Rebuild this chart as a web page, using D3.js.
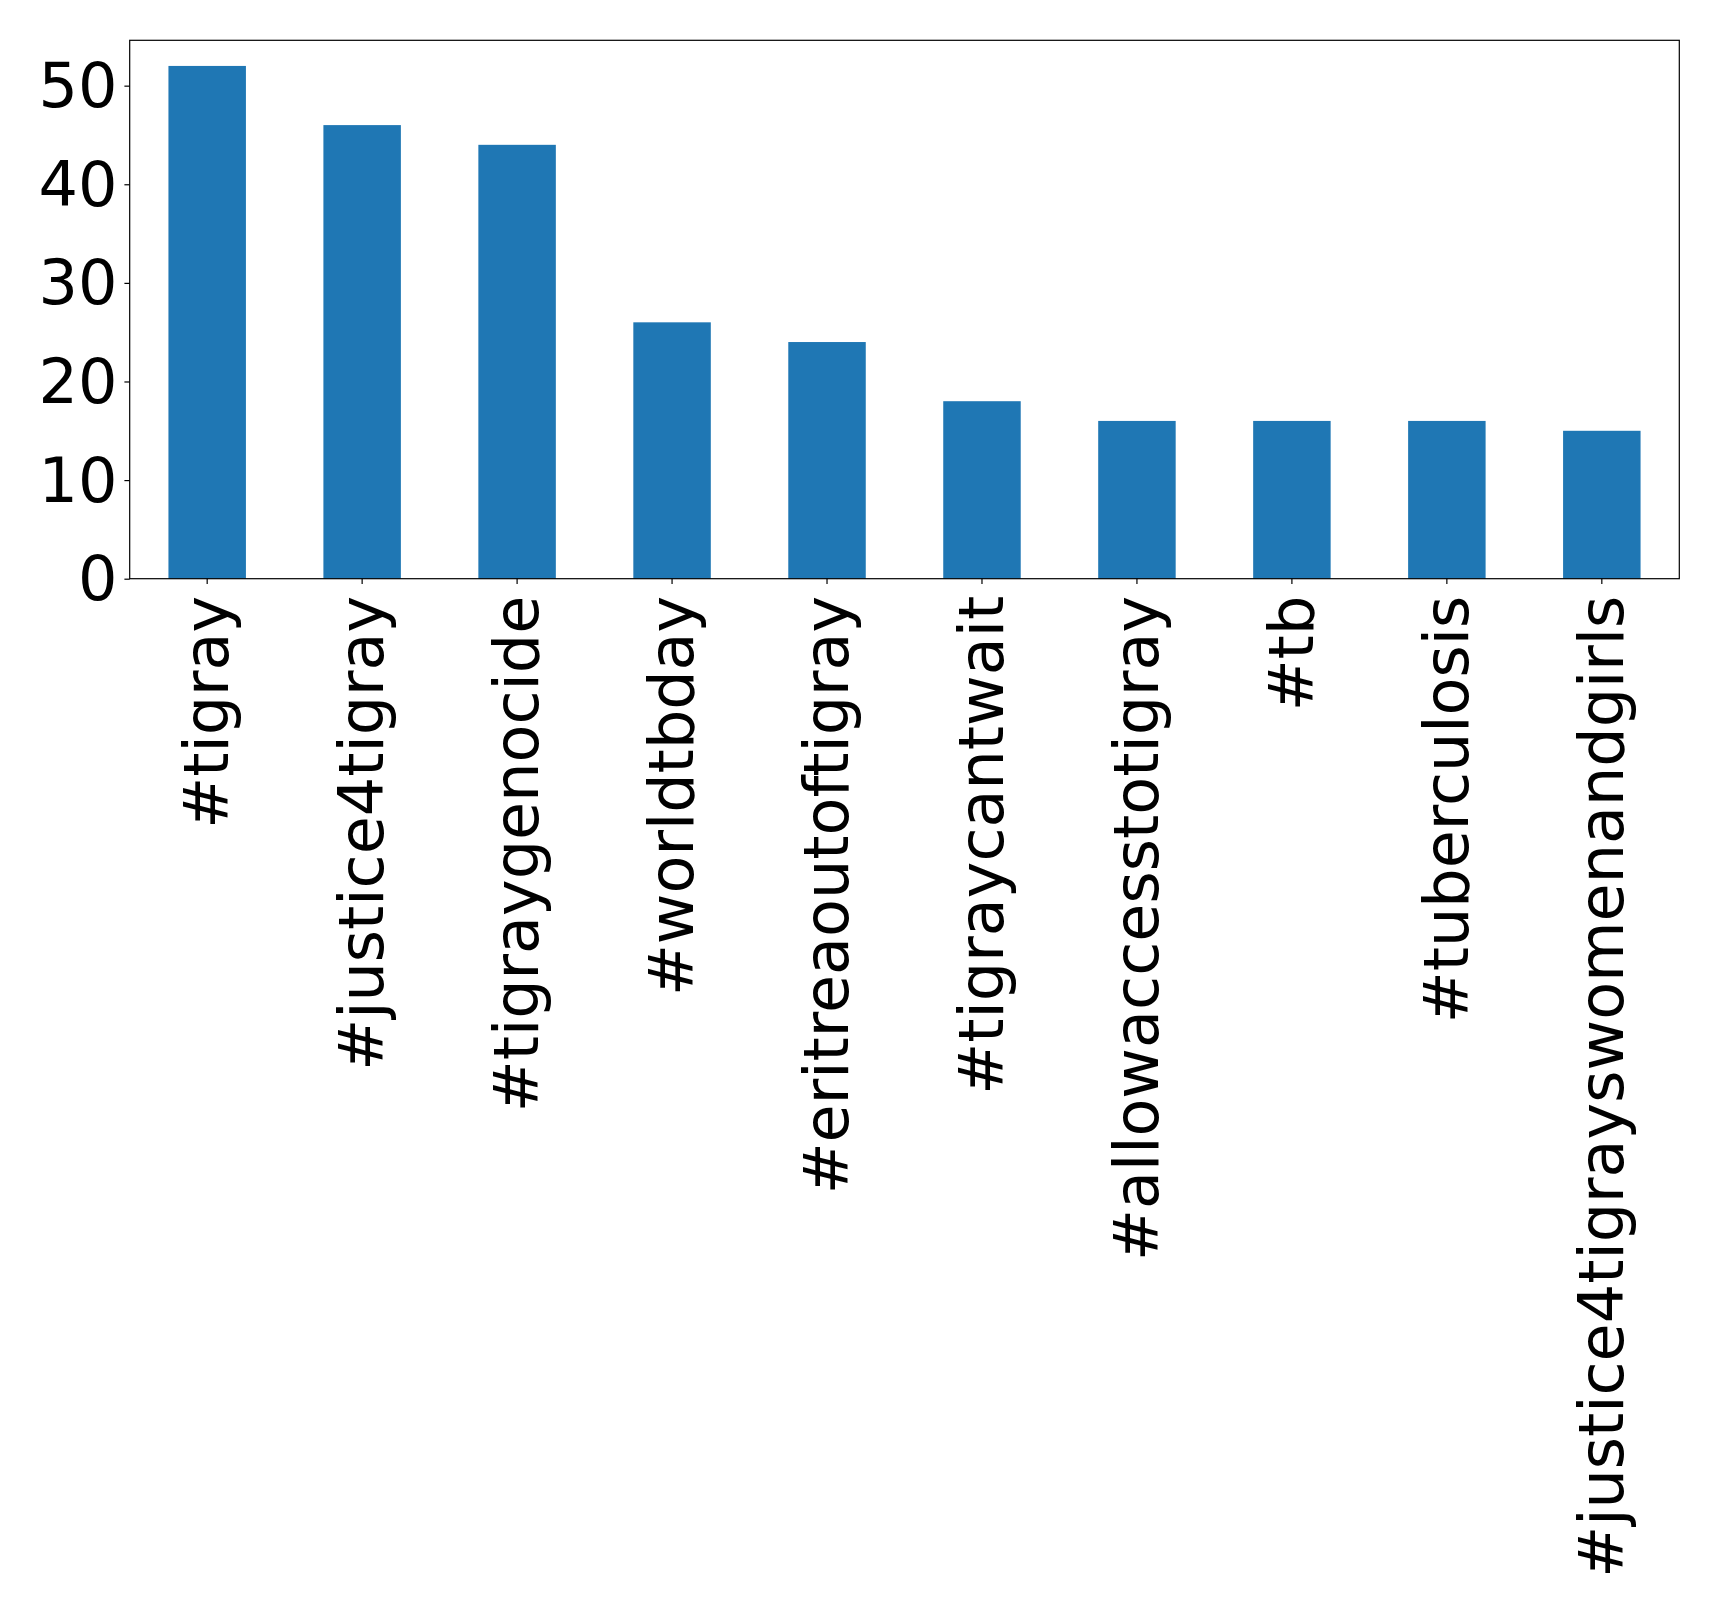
<!DOCTYPE html>
<html>
<head>
<meta charset="utf-8">
<script src="https://cdn.jsdelivr.net/npm/d3@7"></script>
<style>
  body { margin: 0; background: #fff; }
  svg { display: block; }
  text { font-family: "DejaVu Sans", sans-serif; fill: #000; }
</style>
</head>
<body>
<svg id="chart"></svg>
<script>
// hashtags and their counts
const hashtags = ["#tigray", "#justice4tigray", "#tigraygenocide", "#worldtbday",
  "#eritreaoutoftigray", "#tigraycantwait", "#allowaccesstotigray", "#tb",
  "#tuberculosis", "#justice4tigrayswomenandgirls"];
const counts = [52, 46, 44, 26, 24, 18, 16, 16, 16, 15];
const yTicks = [0, 10, 20, 30, 40, 50];

const width = 1719;
const height = 1618;
const margin = {top: 40.3, right: 39.7, bottom: 1039.3, left: 129.7};
const innerW = width - margin.left - margin.right;
const innerH = height - margin.top - margin.bottom;
const fontSize = 62;
const tickLen = 5.3;

const svg = d3.select("#chart").attr("width", width).attr("height", height);

const g = svg.append("g")
  .attr("transform", `translate(${margin.left},${margin.top})`);

const xscale = d3.scaleBand().domain(hashtags).range([0, innerW])
  .paddingInner(0.5).paddingOuter(0.25);
const yscale = d3.scaleLinear().domain([0, d3.max(counts) * 1.05]).range([innerH, 0]);

// bars
g.selectAll("rect.bar")
  .data(counts)
  .join("rect")
  .attr("class", "bar")
  .attr("x", (d, i) => xscale(hashtags[i]))
  .attr("y", (d) => yscale(d))
  .attr("width", xscale.bandwidth())
  .attr("height", (d) => yscale(0) - yscale(d))
  .style("fill", "#1f77b4");

// y axis
const g_yaxis = g.append("g")
  .call(d3.axisLeft(yscale).tickValues(yTicks).tickSize(tickLen).tickSizeOuter(0).tickPadding(7));
g_yaxis.select(".domain").remove();
g_yaxis.selectAll("line").attr("stroke", "#000").attr("stroke-width", 1.2);
g_yaxis.selectAll("text")
  .style("font-size", fontSize + "px")
  .attr("dy", "0.34em");

// x axis
const g_xaxis = g.append("g")
  .attr("transform", `translate(0,${innerH})`)
  .call(d3.axisBottom(xscale).tickSize(tickLen).tickSizeOuter(0));
g_xaxis.select(".domain").remove();
g_xaxis.selectAll("line").attr("stroke", "#000").attr("stroke-width", 1.2);
g_xaxis.selectAll("text")
  .style("font-size", fontSize + "px")
  .attr("text-anchor", "end")
  .attr("transform", "rotate(-90)")
  .attr("x", -17)
  .attr("y", 0)
  .attr("dy", "0.34em");

// frame
g.append("rect")
  .attr("x", 0).attr("y", 0)
  .attr("width", innerW).attr("height", innerH)
  .attr("fill", "none")
  .attr("stroke", "#000")
  .attr("stroke-width", 1.2);
</script>
</body>
</html>
